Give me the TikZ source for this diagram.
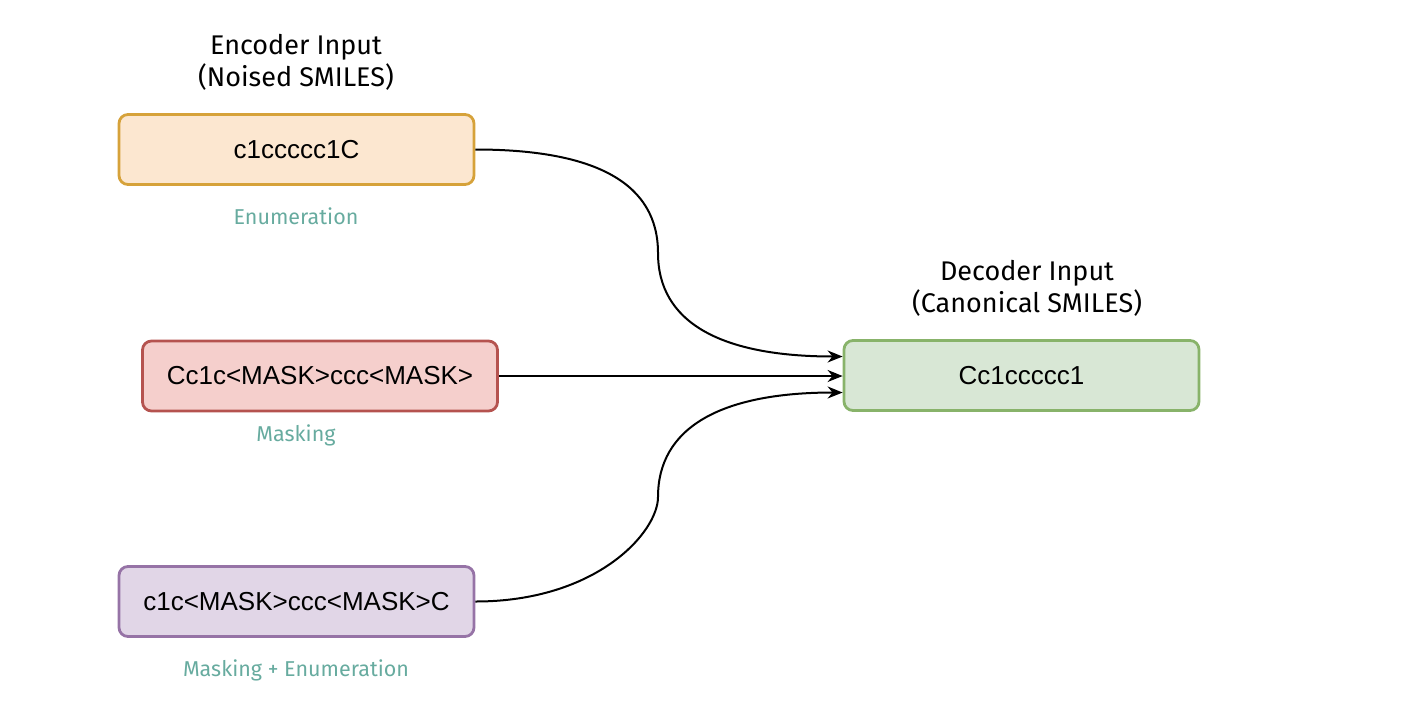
\documentclass[tikz,border=0pt]{standalone}
\usepackage{fontspec}
\setmainfont{Liberation Sans}
\newfontfamily\labelfont{Fira Sans}
\usetikzlibrary{arrows.meta,calc}
\definecolor{orfill}{HTML}{FCE7D0}
\definecolor{ordraw}{HTML}{D6A23A}
\definecolor{rdfill}{HTML}{F5CFCC}
\definecolor{rddraw}{HTML}{B5534F}
\definecolor{pufill}{HTML}{E1D6E7}
\definecolor{pudraw}{HTML}{9673A6}
\definecolor{grfill}{HTML}{D8E7D5}
\definecolor{grdraw}{HTML}{88B36A}
\definecolor{teal}{HTML}{67AB9F}
\tikzset{
  box/.style={rounded corners=9pt, line width=2.8pt, minimum width=355pt, minimum height=70pt,
    inner sep=0pt, font=\fontsize{26}{30}\selectfont},
  title/.style={font=\labelfont\fontsize{27}{32}\selectfont, align=center, text=black},
  method/.style={font=\labelfont\fontsize{21.5}{26}\selectfont, text=teal},
  link/.style={line width=2pt, -{Stealth[length=15pt,width=12pt]}},
}
\begin{document}
\begin{tikzpicture}[x=1pt,y=-1pt]
\useasboundingbox (0,0) rectangle (1404,724);
\node[box, fill=orfill, draw=ordraw] (enc1) at (296.5,149.5) {c1ccccc1C};
\node[box, fill=rdfill, draw=rddraw] (enc2) at (320,376) {Cc1c<MASK>ccc<MASK>};
\node[box, fill=pufill, draw=pudraw] (enc3) at (296.5,601.5) {c1c<MASK>ccc<MASK>C};
\node[box, fill=grfill, draw=grdraw] (dec) at (1021.5,375.5) {Cc1ccccc1};

\node[title] (enct) at (296,62) {Encoder Input\\(Noised SMILES)};
\node[title] (dect) at (1027,288) {Decoder Input\\(Canonical SMILES)};
\node[method] (m1) at (296,216) {Enumeration};
\node[method] (m2) at (296,435) {Masking};
\node[method] (m3) at (296,670) {Masking + Enumeration};

\coordinate (d1) at ($(dec.west)+(0,-19)$);
\coordinate (d3) at ($(dec.west)+(0,17)$);
\coordinate (mid1) at (658,253);
\coordinate (mid3) at (658,497);

\draw[link] (enc1.east) .. controls (597,149.5) and (658,184) .. (mid1)
  .. controls (658,322) and (720,356.5) .. (d1);
\draw[link] (enc2.east) -- (enc2.east -| dec.west);
\draw[link] (enc3.east) .. controls (597,601.5) and (658,532) .. (mid3)
  .. controls (658,428) and (720,392.5) .. (d3);
\end{tikzpicture}
\end{document}
